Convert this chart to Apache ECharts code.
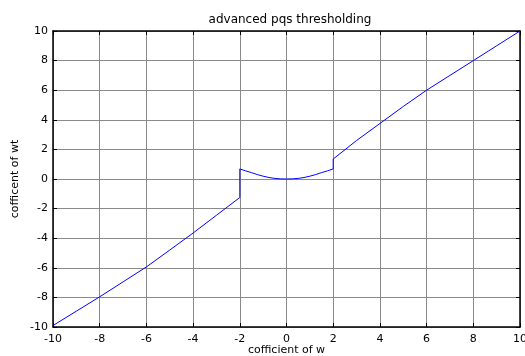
<!DOCTYPE html>
<html>
<head>
<meta charset="utf-8">
<script src="https://cdn.jsdelivr.net/npm/echarts@6/dist/echarts.min.js"></script>
<style>html,body{margin:0;padding:0;background:#fff}#c{width:525px;height:356px}</style>
</head>
<body>
<div id="c"></div>
<script>
var titleText = 'advanced pqs thresholding';
var xName = 'cofficient of w';
var yName = 'cofficent of wt';
var xs = [-10,-9,-8,-7,-6,-5,-4,-3,-2,-2,-1.75,-1.5,-1.25,-1,-0.75,-0.5,-0.25,0,0.25,0.5,0.75,1,1.25,1.5,1.75,2,2,3,4,5,6,7,8,9,10];
var ys = [-9.9,-8.93,-7.96,-6.95,-5.94,-4.8,-3.65,-2.45,-1.25,0.68,0.55,0.43,0.3,0.19,0.1,0.04,0.01,0,0.01,0.04,0.1,0.19,0.3,0.43,0.55,0.68,1.35,2.6,3.75,4.9,6.0,7.0,8.0,9.0,10];
var ticks = [-10,-8,-6,-4,-2,0,2,4,6,8,10];

var font = 'DejaVu Sans, sans-serif';
var data = xs.map(function(x,i){return [x, ys[i]];});
var chart = echarts.init(document.getElementById('c'));
function ax(pos, show, name){
  return {
    type:'value', min:ticks[0], max:ticks[ticks.length-1], interval:ticks[1]-ticks[0], position:pos,
    name: name||'',
    axisLine:{show:true, onZero:false, lineStyle:{color:'#000', width:1.5}},
    axisTick:{show:true, inside:true, length:4, lineStyle:{color:'#000'}},
    axisLabel:{show:show, color:'#000', fontFamily:font, fontSize:11},
    splitLine:{show:show, lineStyle:{color:'#8a8a8a', width:1}}
  };
}
var xa = ax('bottom', true, xName);
xa.nameLocation='middle'; xa.nameGap=23; xa.nameMoveOverlap=false;
xa.nameTextStyle={color:'#000', fontFamily:font, fontSize:11, verticalAlign:'middle'};
xa.axisLabel.margin=7;
var ya = ax('left', true, yName);
ya.nameLocation='middle'; ya.nameGap=38; ya.nameMoveOverlap=false;
ya.nameTextStyle={color:'#000', fontFamily:font, fontSize:11, verticalAlign:'middle'};
ya.axisLabel.margin=5;
var xt = ax('top', false);
var yr = ax('right', false);
chart.setOption({
  animation:false,
  backgroundColor:'#fff',
  title:{text:titleText, left:285, textAlign:'center', top:9, textStyle:{fontFamily:font, fontSize:12, fontWeight:'normal', color:'#000'}},
  grid:{left:53, right:5, top:31, bottom:29, containLabel:false, outerBoundsMode:'none'},
  xAxis:[xa, xt],
  yAxis:[ya, yr],
  series:[{type:'line', data:data, showSymbol:false, symbol:'none', lineStyle:{color:'#0000ff', width:1}, xAxisIndex:0, yAxisIndex:0}]
});
</script>
</body>
</html>
